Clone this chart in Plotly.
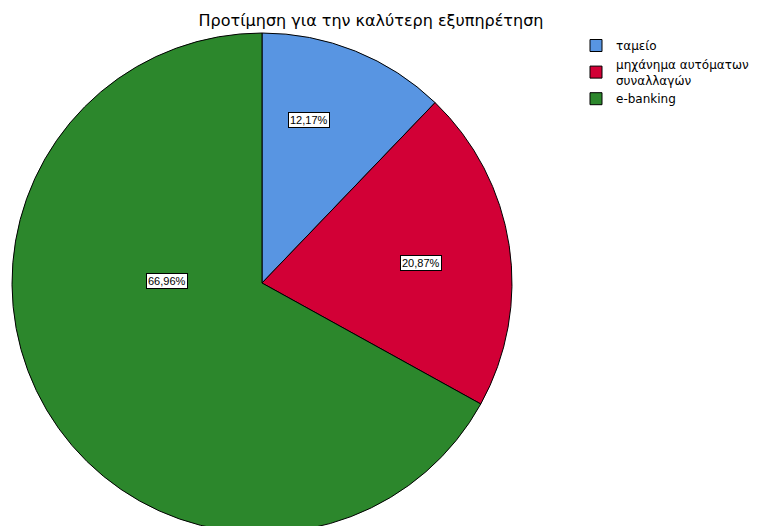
import math
import plotly.graph_objects as go

# Preference shares (%)
categories = ["ταμείο", "μηχάνημα αυτόματων<br>συναλλαγών", "e-banking"]
shares = [12.17, 20.87, 66.96]
slice_colors = ["#5895E2", "#D20036", "#2C872C"]

W, H = 763, 540
cx, cy, R = 262, 283, 250  # pie centre / radius in px from top-left

fig = go.Figure(go.Pie(
    labels=categories,
    values=shares,
    sort=False,
    direction="clockwise",
    rotation=0,
    marker=dict(colors=slice_colors, line=dict(color="black", width=1)),
    textinfo="none",
    hoverinfo="label+percent",
    domain=dict(x=[(cx - R) / W, (cx + R) / W],
                y=[(H - cy - R) / H, (H - cy + R) / H]),
))

# boxed percentage labels, placed by angle (deg clockwise from 12 o'clock) and radial fraction
label_place = [(16, 0.68), (82.8, 0.64), (271, 0.38)]
for v, (ang, frac) in zip(shares, label_place):
    a = math.radians(ang)
    px = cx + frac * R * math.sin(a)
    py = cy - frac * R * math.cos(a)
    fig.add_annotation(
        x=px / W, y=1 - py / H, xref="paper", yref="paper",
        xanchor="center", yanchor="middle",
        text=f"{v:.2f}%".replace(".", ","), showarrow=False,
        font=dict(family="Arial, Liberation Sans", size=11, color="black"),
        bgcolor="white", bordercolor="black", borderwidth=1, borderpad=1,
    )

fig.update_layout(
    width=W, height=H,
    margin=dict(l=0, r=0, t=0, b=0),
    paper_bgcolor="white",
    plot_bgcolor="white",
    title=dict(text="Προτίμηση για την καλύτερη εξυπηρέτηση",
               x=371 / W, xanchor="center", y=1 - 20 / H, yanchor="middle",
               font=dict(family="DejaVu Sans", size=16, color="black")),
    legend=dict(x=576 / W, y=1 - 31 / H, xanchor="left", yanchor="top",
                font=dict(family="DejaVu Sans", size=12, color="black"),
                bgcolor="rgba(0,0,0,0)", tracegroupgap=0, itemwidth=30),
    showlegend=True,
)

fig.write_html("out.html",
               post_script="document.body.style.margin='0';document.body.style.overflow='hidden';")
